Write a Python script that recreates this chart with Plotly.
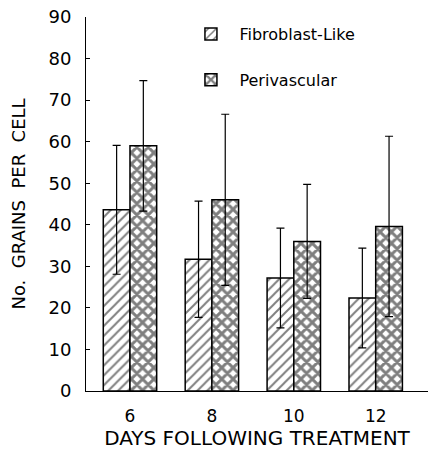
import plotly.graph_objects as go

days = [6, 8, 10, 12]
fibro_mean = [43.6, 31.7, 27.2, 22.4]
fibro_err = [15.5, 14.0, 12.0, 12.0]
peri_mean = [59.0, 46.0, 36.0, 39.6]
peri_err = [15.7, 20.6, 13.7, 21.7]
series_names = ["Fibroblast-Like", "Perivascular"]
y_ticks = [0, 10, 20, 30, 40, 50, 60, 70, 80, 90]

FONT = "DejaVu Sans"

fig = go.Figure()
fig.add_trace(go.Bar(
    x=days, y=fibro_mean, name=series_names[0], legendgroup="a",
    marker=dict(color="white", line=dict(color="black", width=1.5),
                pattern=dict(shape="/", fgcolor="black", bgcolor="white", size=7, solidity=0.28)),
    error_y=dict(type="data", array=fibro_err, color="black", thickness=1.2, width=4),
))
fig.add_trace(go.Bar(
    x=days, y=peri_mean, name=series_names[1], legendgroup="b",
    marker=dict(color="white", line=dict(color="black", width=1.5),
                pattern=dict(shape="x", fgcolor="black", bgcolor="white", size=8, solidity=0.6)),
    error_y=dict(type="data", array=peri_err, color="black", thickness=1.2, width=4),
))

fig.update_layout(
    width=428, height=452,
    margin=dict(l=86, r=0, t=17, b=61),
    paper_bgcolor="white", plot_bgcolor="white",
    barmode="group", bargap=0.348, bargroupgap=0,
    font=dict(family=FONT, color="black", size=16),
    legend=dict(x=0.282, y=1.0, xanchor="left", yanchor="top",
                bgcolor="rgba(0,0,0,0)", font=dict(size=16, family=FONT),
                tracegroupgap=22, itemwidth=47),
    xaxis=dict(range=[4.926, 13.277], tickvals=days, ticktext=[str(d) for d in days],
               showline=True, linecolor="black", linewidth=1, ticks="", showgrid=False,
               zeroline=False, tickfont=dict(size=17), ticklabelstandoff=10,
               title=dict(text="DAYS FOLLOWING TREATMENT", font=dict(size=20), standoff=4)),
    yaxis=dict(range=[0, 90], tickvals=y_ticks, showline=True, linecolor="black", linewidth=1,
               ticks="inside", ticklen=4, tickcolor="black", showgrid=False, zeroline=False,
               tickfont=dict(size=18), ticklabelstandoff=10,
               title=dict(text="No.\u00a0 GRAINS\u00a0 PER\u00a0 CELL", font=dict(size=18), standoff=18)),
)

fig.write_html("out.html")
